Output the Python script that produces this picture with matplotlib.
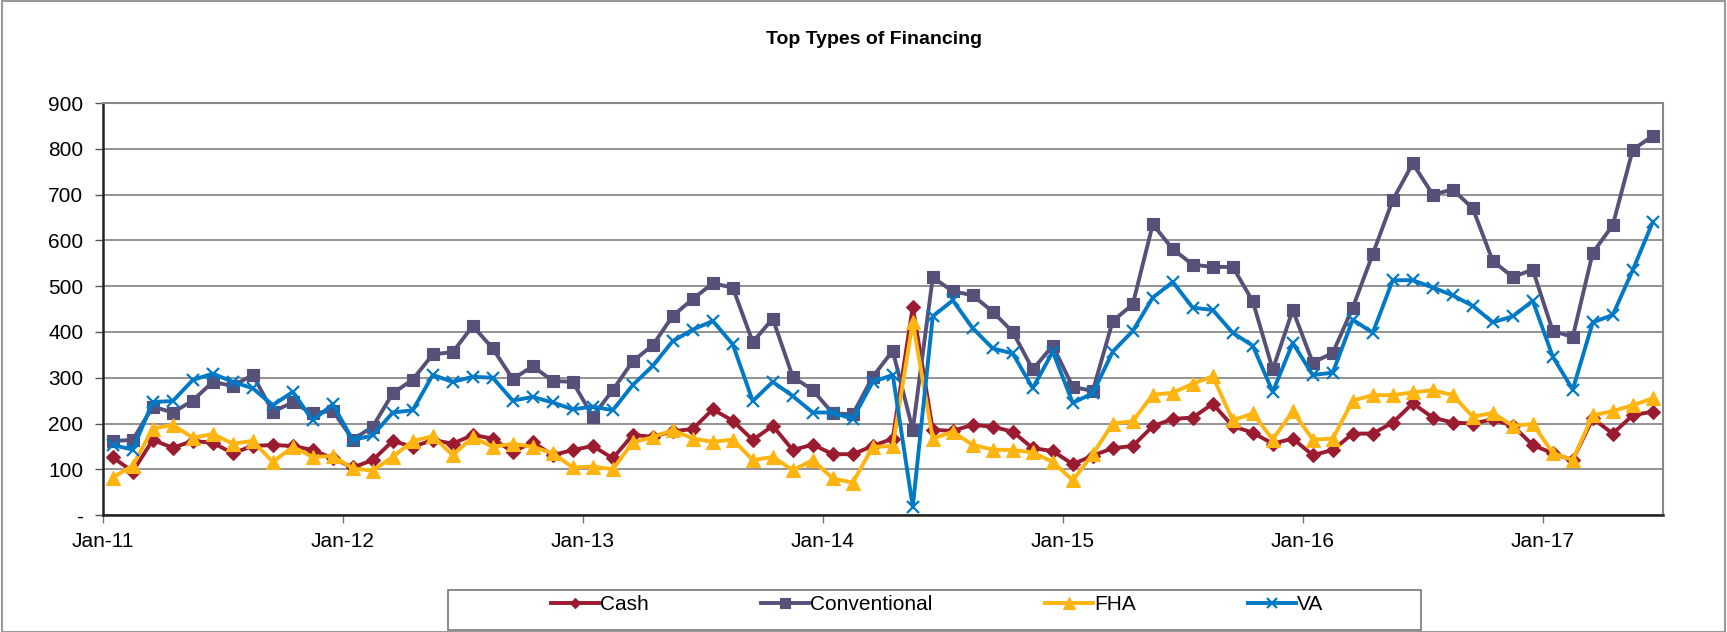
import matplotlib
matplotlib.use("Agg")
import matplotlib.pyplot as plt
import numpy as np
from matplotlib.patches import Rectangle

plt.rcParams['font.family'] = ['Liberation Sans', 'DejaVu Sans']

months = 78
year_labels = ["Jan-11", "Jan-12", "Jan-13", "Jan-14", "Jan-15", "Jan-16", "Jan-17"]

cash = [126, 95, 164, 147, 162, 158, 135, 151, 153, 151, 142, 124,
        104, 120, 162, 149, 164, 156, 175, 167, 138, 159, 131, 142,
        151, 124, 175, 171, 183, 188, 231, 206, 164, 195, 142, 154,
        133, 133, 151, 167, 455, 186, 184, 197, 193, 182, 146, 140,
        111, 130, 146, 151, 194, 210, 213, 243, 194, 180, 156, 167,
        131, 142, 178, 178, 202, 244, 213, 202, 200, 209, 195, 153,
        135, 120, 211, 178, 218, 226]

conventional = [162, 164, 237, 224, 250, 291, 282, 306, 226, 246, 222, 228,
                165, 193, 266, 296, 351, 356, 413, 364, 297, 325, 293, 291,
                215, 273, 336, 371, 435, 472, 506, 497, 378, 429, 302, 273,
                222, 220, 302, 359, 186, 519, 489, 480, 444, 400, 318, 370,
                280, 271, 424, 460, 635, 581, 547, 542, 542, 467, 318, 448,
                333, 354, 453, 570, 688, 768, 700, 711, 670, 555, 520, 536,
                402, 389, 573, 633, 798, 828]

fha = [82, 108, 189, 197, 169, 177, 156, 162, 116, 149, 127, 129,
       102, 97, 127, 162, 172, 131, 170, 149, 156, 149, 135, 104,
       106, 100, 159, 170, 186, 167, 160, 165, 120, 127, 98, 120,
       80, 71, 149, 151, 422, 167, 182, 153, 143, 142, 137, 116,
       76, 133, 200, 205, 263, 267, 287, 303, 207, 222, 165, 227,
       165, 167, 250, 262, 262, 268, 273, 262, 215, 223, 195, 199,
       136, 120, 218, 227, 240, 255]

va = [153, 143, 247, 249, 295, 309, 291, 277, 240, 269, 207, 242,
      164, 174, 224, 229, 306, 291, 302, 300, 250, 258, 246, 231,
      237, 229, 284, 326, 380, 405, 424, 373, 249, 291, 260, 224,
      224, 210, 291, 306, 18, 434, 469, 408, 364, 353, 277, 357,
      245, 266, 357, 402, 475, 509, 453, 448, 398, 370, 269, 376,
      306, 311, 427, 398, 513, 513, 497, 480, 457, 421, 434, 468,
      346, 274, 421, 437, 535, 640]

series = [
    ("Cash", cash, "#9B1B30", "D", 7),
    ("Conventional", conventional, "#575079", "s", 9),
    ("FHA", fha, "#FFB511", "^", 10),
    ("VA", va, "#0079C6", "x", 9),
]

fig = plt.figure(figsize=(17.27, 6.32), dpi=100)
ax = fig.add_axes([0.0595, 0.185, 0.9033, 0.652])

x = np.arange(months)
for name, vals, color, marker, ms in series:
    ax.plot(x, vals, color=color, lw=2.8, marker=marker, ms=ms,
            markeredgewidth=1.6 if marker == "x" else 0.8,
            markeredgecolor=color, markerfacecolor=color, label=name,
            solid_joinstyle='round')

ax.set_xlim(-0.5, months - 0.5)
ax.set_ylim(0, 900)
yt = np.arange(0, 1000, 100)
ax.set_yticks(yt)
ax.set_yticklabels(["-"] + [str(v) for v in yt[1:]], fontsize=15)
ax.set_xticks(np.arange(0, 84, 12) - 0.5)
ax.set_xticklabels(year_labels, fontsize=15)
ax.tick_params(axis='x', length=6, width=1, color='#777777', pad=6)
ax.tick_params(axis='y', length=6, width=1, color='#555555', pad=8)
ax.grid(axis='y', color='#808080', lw=1.2)
ax.set_axisbelow(True)
for s in ["top", "right"]:
    ax.spines[s].set_color('#888888')
    ax.spines[s].set_linewidth(1.5)
for s in ["left", "bottom"]:
    ax.spines[s].set_color('#222222')
    ax.spines[s].set_linewidth(1.8)

fig.text(0.5 * (0.0595 + 0.9628) - 0.005, 0.937, "Top Types of Financing",
         ha='center', va='center', fontsize=14, fontweight='bold')

leg = fig.legend(loc='center', bbox_to_anchor=(0.5426, 0.0435), ncol=4,
                 fontsize=15, frameon=False,
                 handlelength=2.3, columnspacing=5.4, handletextpad=0.05,
                 borderpad=0.3, borderaxespad=0, markerscale=0.8)

# legend frame box
fig.patches.append(Rectangle((448 / 1727, 2 / 632), (1421 - 448) / 1727, (632 - 590 - 2) / 632,
                             transform=fig.transFigure, fill=False,
                             edgecolor='#777777', lw=1.2))

fig.patches.append(Rectangle((0.001, 0.0), 0.998, 0.998, transform=fig.transFigure,
                             fill=False, edgecolor='#999999', lw=1.5))

fig.savefig("out.png", dpi=100)
